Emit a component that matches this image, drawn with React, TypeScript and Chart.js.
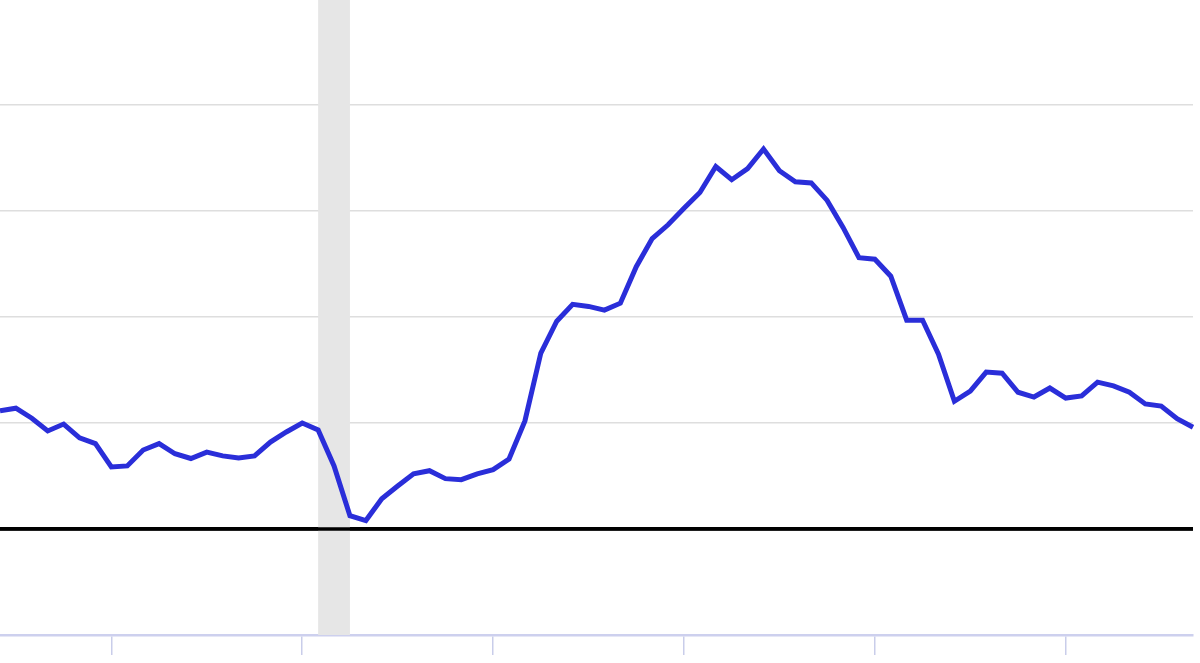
import { useEffect, useRef } from "react";
import { Chart, registerables } from "chart.js";

Chart.register(...registerables);

// monthly, Jun 2018 .. Sep 2024
const startYear = 2018;
const startMonth = 6;
const months: string[] = [];
for (let i = 0; i < 76; i++) {
  const m = startMonth - 1 + i;
  const y = startYear + Math.floor(m / 12);
  months.push(`${y}-${String((m % 12) + 1).padStart(2, "0")}`);
}

// year-over-year change, percent
const inflation = [
  2.23, 2.28, 2.09, 1.85, 1.98, 1.72, 1.61, 1.17, 1.19, 1.49,
  1.61, 1.42, 1.33, 1.45, 1.38, 1.34, 1.38, 1.64, 1.83, 2.0,
  1.87, 1.19, 0.25, 0.16, 0.57, 0.81, 1.04, 1.1, 0.95, 0.93,
  1.04, 1.12, 1.32, 2.04, 3.32, 3.92, 4.24, 4.2, 4.13, 4.26,
  4.95, 5.48, 5.74, 6.05, 6.35, 6.84, 6.59, 6.8, 7.17, 6.76,
  6.55, 6.53, 6.2, 5.69, 5.12, 5.09, 4.77, 3.94, 3.94, 3.3,
  2.41, 2.6, 2.96, 2.94, 2.58, 2.49, 2.66, 2.47, 2.51, 2.77,
  2.7, 2.58, 2.36, 2.32, 2.08, 1.92,
];

const recessionStart = "2020-02";
const recessionEnd = "2020-04";

const recessionPlugin = {
  id: "recession",
  beforeDatasetsDraw(chart: Chart) {
    const { ctx, chartArea, scales } = chart;
    const x = scales.x;
    const y = scales.y;
    const x0 = x.getPixelForValue(months.indexOf(recessionStart));
    const x1 = x.getPixelForValue(months.indexOf(recessionEnd));
    ctx.save();
    ctx.fillStyle = "#e6e6e6";
    ctx.fillRect(x0, chartArea.top, x1 - x0, chartArea.bottom - chartArea.top);
    const y0 = y.getPixelForValue(0);
    ctx.strokeStyle = "#000000";
    ctx.lineWidth = 3.5;
    ctx.beginPath();
    ctx.moveTo(chartArea.left, y0);
    ctx.lineTo(chartArea.right, y0);
    ctx.stroke();
    ctx.restore();
  },
};

export default function App() {
  const canvasRef = useRef<HTMLCanvasElement>(null);

  useEffect(() => {
    if (!canvasRef.current) return;
    const chart = new Chart(canvasRef.current, {
      type: "line",
      data: {
        labels: months,
        datasets: [
          {
            data: inflation,
            borderColor: "#2a2ed9",
            borderWidth: 5,
            pointRadius: 0,
            tension: 0,
          },
        ],
      },
      options: {
        animation: false,
        responsive: true,
        maintainAspectRatio: false,
        layout: { autoPadding: false, padding: { left: 0, right: 7, top: 0, bottom: 0 } },
        plugins: { legend: { display: false }, tooltip: { enabled: false } },
        scales: {
          x: {
            ticks: { display: false, autoSkip: false },
            grid: {
              drawOnChartArea: false,
              drawTicks: true,
              tickLength: 20,
              lineWidth: 1.5,
              color: (c: any) => (months[c.index]?.endsWith("-01") ? "#c9cdea" : "rgba(0,0,0,0)"),
            },
            border: { display: true, color: "#cdd0ee", width: 2.5 },
          },
          y: {
            min: -2,
            max: 10,
            ticks: { display: false, stepSize: 2 },
            grid: {
              drawTicks: false,
              lineWidth: (c: any) => (c.tick?.value === 0 ? 3.5 : 1.5),
              color: (c: any) =>
                c.tick?.value === 0 ? "#000000" : c.tick?.value === -2 ? "rgba(0,0,0,0)" : "#dedede",
            },
            border: { display: false },
          },
        },
      },
      plugins: [recessionPlugin],
    });
    return () => chart.destroy();
  }, []);

  return (
    <div style={{ position: "fixed", top: -1, left: 0, width: 1200, height: 656, background: "#fff" }}>
      <canvas ref={canvasRef} />
    </div>
  );
}
